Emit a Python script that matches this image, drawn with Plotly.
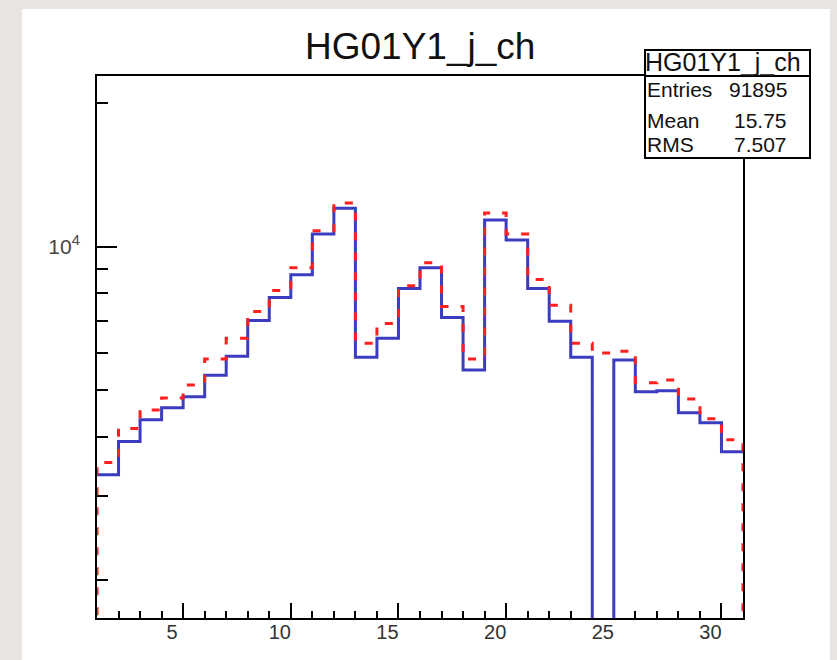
#!/usr/bin/env python3
"""
Recreate the ROOT-style histogram HG01Y1_j_ch (two overlaid step histograms, log y)
"""

import plotly.graph_objects as go

# histogram binning: 30 unit bins from 1 to 31
bin_edges = list(range(1, 32))

# bin contents
blue_counts = [3330, 3910, 4340, 4600, 4850, 5380, 5900, 7010, 7830, 8740,
               10640, 12050, 5870, 6430, 8180, 9040, 7110, 5520, 11380, 10340,
               8180, 6980, 5870, 0, 5790, 4970, 4990, 4490, 4280, 3720]
red_counts = [3530, 4160, 4550, 4820, 5130, 5820, 6430, 7320, 8100, 9040,
              10800, 12350, 6280, 6910, 8290, 9260, 7500, 5820, 11770, 10640,
              8540, 7540, 6280, 5990, 6040, 5190, 5260, 4800, 4360, 3940]

x_major_ticks = [5, 10, 15, 20, 25, 30]
x_tick_labels = ['5', '10', '15', '20', '25', '30']
y_major_ticks = [10000]
y_tick_labels = ['10<sup>4</sup>']
y_minor_ticks = [2000, 3000, 4000, 5000, 6000, 7000, 8000, 9000, 20000]

hist_title = 'HG01Y1_j_ch'
stats_rows = [('Entries', '91895'), ('Mean', '15.75'), ('RMS', '7.507')]

FLOOR = 1  # empty bins drawn down past the bottom of the log axis


def step_points(counts, close_ends):
    """Turn bin contents into x/y for an 'hv' step line"""
    ys = [max(c, FLOOR) for c in counts]
    xs = list(bin_edges)
    ys = ys + [ys[-1]]
    if close_ends:
        xs = [bin_edges[0]] + xs + [bin_edges[-1]]
        ys = [FLOOR] + ys + [FLOOR]
    return xs, ys


# frame in pixels (width 837 x height 660)
L, R, T, B = 97, 743, 76, 618
W, H = 837, 660


def px(x):
    return (x - L) / (R - L)


def py(y):
    return (B - y) / (B - T)


fig = go.Figure()

bx, by = step_points(blue_counts, close_ends=False)
fig.add_trace(go.Scatter(x=bx, y=by, mode='lines', line_shape='hv',
                         line=dict(color='#3c3cc0', width=3), hoverinfo='skip'))

rx, ry = step_points(red_counts, close_ends=True)
fig.add_trace(go.Scatter(x=rx, y=ry, mode='lines', line_shape='hv',
                         line=dict(color='#ff1f1f', width=3, dash='8px,12px'),
                         hoverinfo='skip'))

fig.update_layout(
    width=W, height=H,
    margin=dict(l=L, r=W - R, t=T, b=H - B),
    paper_bgcolor='#e8e5e0',
    plot_bgcolor='white',
    showlegend=False,
    font=dict(family='Liberation Sans, Arial', color='#111'),
)

fig.update_xaxes(
    range=[1, 31], showgrid=False, zeroline=False,
    showline=True, linecolor='black', linewidth=2, mirror=True,
    ticks='inside', tickvals=x_major_ticks, ticktext=x_tick_labels,
    ticklen=15, tickwidth=2, tickcolor='black',
    tickfont=dict(size=20, color='#333'),
    ticklabelshift=-11,
    ticklabelstandoff=-5,
    minor=dict(tickmode='array',
               tickvals=[v for v in bin_edges if v not in x_major_ticks],
               ticks='inside', ticklen=7, tickwidth=2, tickcolor='black',
               showgrid=False),
    layer='below traces',
)

fig.update_yaxes(
    type='log', range=[3.222, 4.358], showgrid=False, zeroline=False,
    showline=True, linecolor='black', linewidth=2, mirror=True,
    ticks='inside', tickvals=y_major_ticks, ticktext=y_tick_labels,
    ticklen=20, tickwidth=2, tickcolor='black',
    tickfont=dict(size=21, color='#444'),
    ticklabelstandoff=11,
    minor=dict(tickmode='array', tickvals=y_minor_ticks,
               ticks='inside', ticklen=11, tickwidth=2, tickcolor='black',
               showgrid=False),
    layer='below traces',
)

# white canvas on the grey page
fig.add_shape(type='rect', xref='paper', yref='paper',
              x0=px(22), x1=px(830), y0=py(662), y1=py(9),
              fillcolor='white', line_width=0, layer='below')

# stats box
fig.add_shape(type='rect', xref='paper', yref='paper',
              x0=px(645), x1=px(810), y0=py(158), y1=py(50),
              fillcolor='white', line=dict(color='black', width=2), layer='above')
fig.add_shape(type='line', xref='paper', yref='paper',
              x0=px(645), x1=px(810), y0=py(76), y1=py(76),
              line=dict(color='black', width=2), layer='above')

fig.add_annotation(text=hist_title, xref='paper', yref='paper',
                   x=px(723), y=py(62), xanchor='center', yanchor='middle',
                   showarrow=False, font=dict(size=25, color='#111'))

row_y = [89, 120, 144]
for (name, value), yy in zip(stats_rows, row_y):
    fig.add_annotation(text=name, xref='paper', yref='paper',
                       x=px(645), y=py(yy), xanchor='left', yanchor='middle',
                       showarrow=False, font=dict(size=21, color='#111'))
    fig.add_annotation(text=value, xref='paper', yref='paper',
                       x=px(789), y=py(yy), xanchor='right', yanchor='middle',
                       showarrow=False, font=dict(size=21, color='#111'))

# main title
fig.add_annotation(text=hist_title, xref='paper', yref='paper',
                   x=px(420), y=py(47), xanchor='center', yanchor='middle',
                   showarrow=False, font=dict(size=37, color='#111'))

# drop the default page margin so the figure sits at the window corner
page_fix = "document.body.style.margin='0';document.body.style.background='#e8e5e0';"
fig.write_html('out.html', post_script=page_fix, config={'displayModeBar': False})
